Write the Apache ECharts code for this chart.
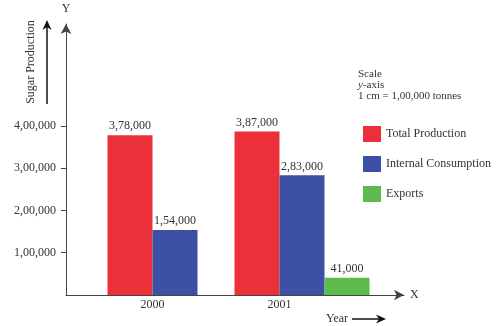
<!DOCTYPE html>
<html>
<head>
<meta charset="utf-8">
<script src="https://cdn.jsdelivr.net/npm/echarts@6/dist/echarts.min.js"></script>
<style>html,body{margin:0;padding:0;background:#fff}#c{width:499px;height:326px}</style>
</head>
<body>
<div id="c"></div>
<script>
const categories = ['2000', '2001'];
const seriesNames = ['Total Production', 'Internal Consumption', 'Exports'];
const totalProduction = [378000, 387000];
const internalConsumption = [154000, 283000];
const exportsData = [null, 41000];
const yTicks = [100000, 200000, 300000, 400000];

function inr(v) {
  const s = String(Math.round(v));
  if (s.length <= 3) return s;
  const last3 = s.slice(-3);
  const rest = s.slice(0, -3).replace(/\B(?=(\d{2})+(?!\d))/g, ',');
  return rest + ',' + last3;
}

const FONT = 'Liberation Serif';
const TXT = '#333';
const YMAX = 641000;
const BW = 45;

const chart = echarts.init(document.getElementById('c'), null, {renderer: 'canvas'});
const barLabel = {show: true, position: 'top', distance: 3, color: TXT, fontFamily: FONT, fontSize: 12, formatter: p => inr(p.value)};
const hiddenY = i => ({type: 'value', gridIndex: i, min: 0, max: YMAX, show: false});

chart.setOption({
  animation: false,
  textStyle: {fontFamily: FONT, color: TXT},
  title: {
    left: 353, top: 64,
    text: '{n|Scale}\n{i|y}{n|-axis}\n{n|1 cm = 1,00,000 tonnes}',
    textStyle: {
      fontWeight: 'normal',
      rich: {
        n: {fontFamily: FONT, fontSize: 11, color: TXT, lineHeight: 11, fontWeight: 'normal'},
        i: {fontFamily: FONT, fontSize: 11, color: TXT, lineHeight: 11, fontStyle: 'italic', fontWeight: 'normal'}
      }
    }
  },
  legend: {
    data: seriesNames, orient: 'vertical', left: 358, top: 121,
    itemWidth: 18, itemHeight: 16, itemGap: 14, icon: 'rect',
    textStyle: {fontFamily: FONT, fontSize: 12, color: TXT}
  },
  grid: [
    {left: 66, right: 95, top: 24, bottom: 31},
    {left: 89, width: 254, top: 24, bottom: 31},
    {left: 89 + BW * 1.5, width: 254, top: 24, bottom: 31}
  ],
  xAxis: [
    {type: 'value', gridIndex: 0, min: 0, max: 1, name: 'X', nameLocation: 'end', nameGap: 6,
     nameTextStyle: {fontFamily: FONT, fontSize: 12, color: TXT},
     axisLine: {show: true, symbol: ['none', 'arrow'], symbolSize: [8, 10], lineStyle: {color: '#444', width: 1}},
     axisTick: {show: false}, axisLabel: {show: false}, splitLine: {show: false}},
    {type: 'category', gridIndex: 1, data: categories,
     axisLine: {show: false}, axisTick: {show: false},
     axisLabel: {margin: 4, fontFamily: FONT, fontSize: 12, color: TXT}},
    {type: 'category', gridIndex: 2, data: categories, show: false}
  ],
  yAxis: [
    {type: 'value', gridIndex: 0, min: 0, max: YMAX, name: 'Y', nameLocation: 'end', nameGap: 9,
     nameTextStyle: {fontFamily: FONT, fontSize: 12, color: TXT, align: 'center'},
     axisLine: {show: true, symbol: ['none', 'arrow'], symbolSize: [8, 10], lineStyle: {color: '#444', width: 1}},
     axisTick: {show: true, length: 5, customValues: yTicks, lineStyle: {color: '#444'}},
     axisLabel: {customValues: yTicks, margin: 10, fontFamily: FONT, fontSize: 12, color: TXT, formatter: v => inr(v)},
     splitLine: {show: false}},
    hiddenY(1),
    hiddenY(2)
  ],
  series: [
    {name: seriesNames[0], type: 'bar', xAxisIndex: 1, yAxisIndex: 1, data: totalProduction,
     barWidth: BW, barGap: '0%', itemStyle: {color: '#EC3039'}, label: barLabel},
    {name: seriesNames[1], type: 'bar', xAxisIndex: 1, yAxisIndex: 1, data: internalConsumption,
     barWidth: BW, barGap: '0%', itemStyle: {color: '#3E50A3'}, label: barLabel},
    {name: seriesNames[2], type: 'bar', xAxisIndex: 2, yAxisIndex: 2, data: exportsData,
     barWidth: BW, itemStyle: {color: '#5DBB4E'}, label: barLabel}
  ],
  graphic: [
    {type: 'text', x: 31, y: 62, rotation: Math.PI / 2,
     style: {text: 'Sugar Production', fontFamily: FONT, fontSize: 12, fill: TXT, align: 'center', verticalAlign: 'middle'}},
    {type: 'line', shape: {x1: 47, y1: 104, x2: 47, y2: 27}, style: {stroke: '#111', lineWidth: 1.5}},
    {type: 'polygon', shape: {points: [[47, 20], [42.5, 30], [47, 27], [51.5, 30]]}, style: {fill: '#111'}},
    {type: 'text', x: 337, y: 319,
     style: {text: 'Year', fontFamily: FONT, fontSize: 12, fill: TXT, align: 'center', verticalAlign: 'middle'}},
    {type: 'line', shape: {x1: 352, y1: 319, x2: 379, y2: 319}, style: {stroke: '#111', lineWidth: 1.5}},
    {type: 'polygon', shape: {points: [[386, 319], [376, 314.5], [379, 319], [376, 323.5]]}, style: {fill: '#111'}}
  ]
});
</script>
</body>
</html>
